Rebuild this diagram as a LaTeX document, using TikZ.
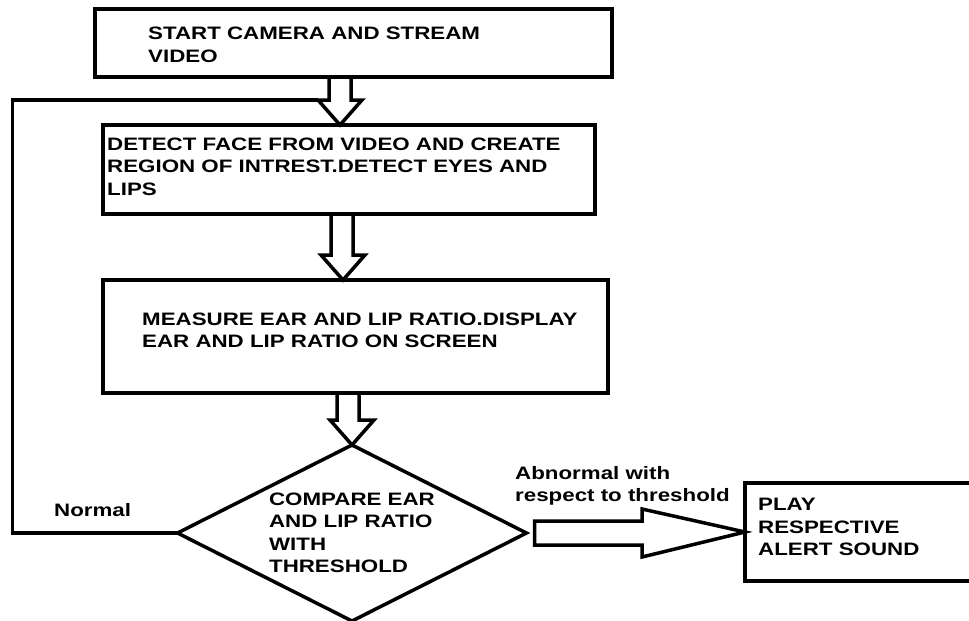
\documentclass[tikz,border=0pt]{standalone}
\usepackage{fontspec}
\setmainfont{Liberation Sans}[FakeStretch=1.24]
\usetikzlibrary{shapes.geometric,calc}

\tikzset{
  flow/.style={line width=3.5pt, line join=miter},
  box/.style={flow, draw, rectangle, anchor=north west, inner sep=0pt, outer sep=0pt},
  txt/.style={font=\bfseries\fontsize{18}{22.5}\selectfont, align=left, inner sep=0pt},
  decision/.style={flow, draw, diamond, aspect=2, txt, outer sep=0pt,
    minimum width=349pt, minimum height=176pt},
}

% hollow block arrow pointing down, shaft on #1, tip on #2
\newcommand{\downblock}[2]{%
  \draw[flow] let \p1=(#1), \p2=(#2) in
    (\x1-11pt,\y1) -- (\x1-11pt,\y2+25pt) -- (\x2-22pt,\y2+25pt) -- (\x2,\y2)
    -- (\x2+22pt,\y2+25pt) -- (\x1+11pt,\y2+25pt) -- (\x1+11pt,\y1);}

\begin{document}
\begin{tikzpicture}[x=1pt,y=-1pt]
  \useasboundingbox (0,0) rectangle (969,621);
  % process boxes
  \node[box, minimum width=517pt, minimum height=68pt] (cam) at (95,9) {};
  \node[txt, anchor=west] (camtxt) at ([xshift=53pt,yshift=-2pt]cam.west)
    {START CAMERA AND STREAM\\VIDEO};
  \node[box, minimum width=492pt, minimum height=89pt] (det) at (103,125) {};
  \node[txt, anchor=west] (dettxt) at ([xshift=4pt,yshift=3pt]det.west)
    {DETECT FACE FROM VIDEO AND CREATE\\REGION OF INTREST.DETECT EYES AND\\LIPS};
  \node[box, minimum width=505pt, minimum height=113pt] (meas) at (103,280) {};
  \node[txt, anchor=west] (meastxt) at ([xshift=39pt,yshift=6pt]meas.west)
    {MEASURE EAR AND LIP RATIO.DISPLAY\\EAR AND LIP RATIO ON SCREEN};
  \node[decision] (cmp) at (352,533) {COMPARE EAR\\AND LIP RATIO\\WITH\\THRESHOLD};
  \node[box, minimum width=230pt, minimum height=98pt] (alert) at (745,483) {};
  \node[txt, anchor=west] (alerttxt) at ([xshift=13pt,yshift=5pt]alert.west)
    {PLAY\\RESPECTIVE\\ALERT SOUND};

  % down arrows
  \downblock{$(cam.south west)+(245,0)$}{$(det.north west)+(237,0)$}
  \downblock{$(det.south west)+(239,0)$}{$(meas.north west)+(240,0)$}
  \downblock{$(meas.south west)+(245,0)$}{cmp.north}

  % normal: back to face detection
  \coordinate (hd) at ($(det.north west)+(215,-25)$);
  \draw[flow] (cmp.west) -- ++(-165,0) |- (hd);
  \node[txt, anchor=west] (nrm) at (54,510) {Normal};

  % abnormal: alert
  \draw[flow] let \p1=($(cmp.east)+(8,0)$), \p2=(alert.west) in
    (\x1,\y1+12pt) -- (\x2-103pt,\y1+12pt) -- (\x2-103pt,\y1+24pt) -- (\x2,\y2)
    -- (\x2-103pt,\y1-24pt) -- (\x2-103pt,\y1-12pt) -- (\x1,\y1-12pt) -- cycle;
  \node[txt, anchor=west] (abn) at (515,486) {Abnormal with\\respect to threshold};
\end{tikzpicture}
\end{document}
